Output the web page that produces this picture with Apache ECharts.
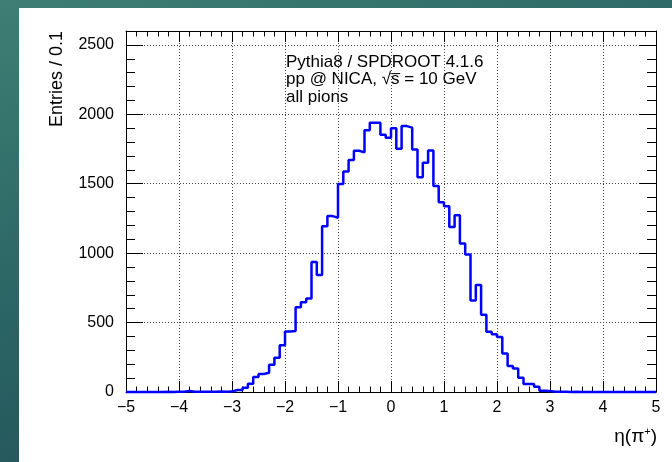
<!DOCTYPE html>
<html>
<head>
<meta charset="utf-8">
<script src="https://cdn.jsdelivr.net/npm/echarts@6/dist/echarts.min.js"></script>
<style>
  html, body { margin: 0; padding: 0; }
  body {
    width: 672px; height: 462px; overflow: hidden; position: relative;
    background: linear-gradient(160deg, #3d7f74 0%, #2b6464 45%, #1d4852 100%);
  }
  #panel { position: absolute; left: 19px; top: 8px; right: 0; bottom: 0; background: #ffffff; }
  #chart { position: absolute; left: 0; top: 0; width: 672px; height: 462px; }
</style>
</head>
<body>
<div id="panel"></div>
<div id="chart"></div>
<script>
// Histogram binning: 100 bins of width 0.1 on [-5, 5]
const binLow = -5;
const binWidth = 0.1;
// Entries per bin, left to right
const counts = [
  0, 0, 0, 0, 0, 0, 0, 1, 0, 1,
  2, 8, 2, 1, 2, 1, 2, 3, 2, 3,
  14, 14, 31, 60, 108, 130, 139, 196, 247, 336,
  435, 440, 611, 647, 674, 937, 843, 1194, 1267, 1255,
  1498, 1588, 1671, 1738, 1726, 1886, 1940, 1940, 1853, 1831,
  1900, 1752, 1915, 1904, 1746, 1546, 1652, 1740, 1483, 1366,
  1338, 1188, 1273, 1069, 990, 659, 770, 556, 434, 416,
  397, 278, 188, 170, 102, 57, 57, 38, 9, 8,
  2, 1, 1, 0, 1, 0, 0, 0, 0, 0,
  0, 0, 0, 0, 0, 0, 0, 0, 0, 0
];
const xTicks = [-5, -4, -3, -2, -1, 0, 1, 2, 3, 4, 5];
const yTicks = [0, 500, 1000, 1500, 2000, 2500];
const infoLines = ['Pythia8 / SPDROOT 4.1.6', 'pp @ NICA, \u221As\u0305 = 10 GeV', 'all pions'];

// Step line points at left bin edges, closed at the upper edge of the last bin
const stepData = counts.map((c, i) => [binLow + i * binWidth, c]);
stepData.push([binLow + counts.length * binWidth, counts[counts.length - 1]]);

const FONT = '"Liberation Sans", Arial, Helvetica, sans-serif';
const gridLine = { show: true, lineStyle: { color: '#444', width: 1, type: [1, 2] } };
const frameLine = { show: true, onZero: false, lineStyle: { color: '#000', width: 1 } };
const noLine = { show: false, onZero: false };
const minus = v => String(v).replace('-', '\u2212');

const xMin = xTicks[0], xMax = xTicks[xTicks.length - 1];
const yMax = 2600;

function xAxisDef(pos, labels) {
  return {
    type: 'value', position: pos, min: xMin, max: xMax, interval: xTicks[1] - xTicks[0],
    axisLine: frameLine,
    axisTick: { show: true, inside: true, length: 11, lineStyle: { color: '#000' } },
    minorTick: { show: true, splitNumber: 5, length: 5.5, lineStyle: { color: '#000' } },
    splitLine: labels ? gridLine : { show: false },
    axisLabel: labels ? { show: true, margin: 8, fontSize: 16, fontFamily: FONT, color: '#000', formatter: minus } : { show: false }
  };
}
function yAxisDef(pos, interval, tickLen, labels, grid) {
  return {
    type: 'value', position: pos, min: 0, max: yMax, interval: interval,
    axisLine: labels || grid ? frameLine : (pos === 'right' && interval === 500 ? frameLine : noLine),
    axisTick: { show: true, inside: true, length: tickLen, lineStyle: { color: '#000' } },
    minorTick: { show: false },
    splitLine: grid ? gridLine : { show: false },
    axisLabel: labels ? { show: true, margin: 12, fontSize: 16, fontFamily: FONT, color: '#000', showMaxLabel: false,
      formatter: v => (yTicks.indexOf(v) >= 0 ? String(v) : '') } : { show: false }
  };
}

const chart = echarts.init(document.getElementById('chart'), null, { renderer: 'canvas' });
chart.setOption({
  animation: false,
  backgroundColor: 'transparent',
  grid: { left: 126, top: 31, width: 530, height: 361, containLabel: false },
  xAxis: [xAxisDef('bottom', true), xAxisDef('top', false)],
  yAxis: [
    yAxisDef('left', 500, 17, true, true),
    yAxisDef('left', 100, 9, false, false),
    yAxisDef('right', 500, 17, false, false),
    yAxisDef('right', 100, 9, false, false)
  ],
  series: [{
    type: 'line', step: 'end', data: stepData, showSymbol: false, clip: false,
    lineStyle: { color: '#0000ff', width: 2.5 }, z: 5
  }],
  graphic: [
    { type: 'text', x: 57, y: 31, rotation: Math.PI / 2,
      style: { text: 'Entries / 0.1', font: '18px ' + FONT, fill: '#000', align: 'right', verticalAlign: 'middle' } },
    { type: 'text', x: 657, y: 437,
      style: { text: '\u03B7(\u03C0{s|+})', font: '19px ' + FONT, fill: '#000', align: 'right', verticalAlign: 'middle',
        rich: { s: { fontSize: 11, fontFamily: FONT, verticalAlign: 'top', padding: [0, 0, 10, 0] } } } }
  ].concat(infoLines.map((t, i) => ({
    type: 'text', x: 286, y: 62 + i * 17.5,
    style: { text: t, font: '17px ' + FONT, fill: '#000', align: 'left', verticalAlign: 'middle' }
  })))
});
</script>
</body>
</html>
